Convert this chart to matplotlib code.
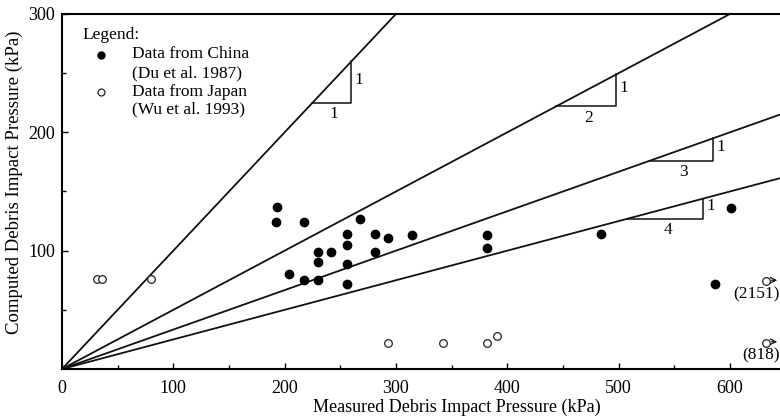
import matplotlib
matplotlib.use("Agg")
from matplotlib import pyplot as plt

plt.rcParams['font.family'] = ['Liberation Serif', 'DejaVu Serif']

# data from China (Du et al. 1987)
china_x = [193, 192, 217, 268, 256, 281, 293, 314, 256, 230, 242, 281, 230, 256, 204, 217, 230, 256, 382, 382, 601, 484, 587]
china_y = [137, 124, 124, 127, 114, 114, 111, 113, 105, 99, 99, 99, 90, 89, 80, 75, 75, 72, 113, 102, 136, 114, 72]

# data from Japan (Wu et al. 1993)
japan_x = [31, 36, 80, 293, 342, 382, 391]
japan_y = [76, 76, 76, 22, 22, 22, 28]

# off-scale Japan points (real measured value in brackets)
off_y = [74, 22]
off_labels = ["(2151)", "(818)"]
off_x = 632

# reference lines 1:1, 1:2, 1:3, 1:4
ratios = [1, 2, 3, 4]
# slope triangles: (start x, length along x)
tri_start = [225, 444, 528, 508]
tri_len = [35, 54, 57, 68]

x_max = 645
y_max = 300

fig = plt.figure(figsize=(7.8, 4.19), dpi=100)
ax = fig.add_axes([62 / 780, 50 / 419, 718 / 780, 355 / 419])

for r in ratios:
    ax.plot([0, x_max], [0, x_max / r], color="#111111", lw=1.3, zorder=2)

# little slope triangles
for r, x0, L in zip(ratios, tri_start, tri_len):
    y0 = x0 / r
    x1 = x0 + L
    y1 = y0 + L / r
    ax.plot([x0, x1, x1], [y0, y0, y1], color="#111111", lw=1.1, zorder=2)
    ax.text(x0 + L / 2 + 2, y0 - 3, str(r), ha="center", va="top", fontsize=12.5)
    ax.text(x1 + 3, (y0 + y1) / 2 + 2, "1", ha="left", va="center", fontsize=12.5)

ax.plot(china_x, china_y, "o", color="black", ms=6, zorder=3)
ax.plot(japan_x, japan_y, "o", mfc="white", mec="#222222", mew=0.9, ms=5.5, zorder=3)

for y, lab in zip(off_y, off_labels):
    ax.plot([off_x], [y], "o", mfc="white", mec="#222222", mew=0.9, ms=5.5, zorder=3, clip_on=False)
    ax.annotate("", xy=(x_max, y + 1), xytext=(off_x + 3, y + 1),
                arrowprops=dict(arrowstyle="->", color="#111111", lw=0.9), annotation_clip=False)
    ax.text(x_max, y - 4, lab, ha="right", va="top", fontsize=12.5)

# legend drawn as text
ax.text(18, 282, "Legend:", ha="left", va="center", fontsize=12.5)
ax.plot([35], [265], "o", color="black", ms=5)
ax.text(63, 266, "Data from China", ha="left", va="center", fontsize=12.5)
ax.text(63, 250, "(Du et al. 1987)", ha="left", va="center", fontsize=12.5)
ax.plot([35], [234], "o", mfc="white", mec="#222222", mew=0.9, ms=5)
ax.text(63, 234, "Data from Japan", ha="left", va="center", fontsize=12.5)
ax.text(63, 219, "(Wu et al. 1993)", ha="left", va="center", fontsize=12.5)

ax.set_xlim(0, x_max)
ax.set_ylim(0, y_max)
ax.set_xticks([0, 100, 200, 300, 400, 500, 600])
ax.set_xticks([50, 150, 250, 350, 450, 550], minor=True)
ax.set_yticks([100, 200, 300])
ax.set_yticks([50, 150, 250], minor=True)
ax.tick_params(which="both", direction="in", labelsize=13)
ax.tick_params(which="major", length=4, width=1)
ax.tick_params(which="minor", length=3, width=1)
ax.tick_params(axis="x", pad=8)
ax.tick_params(axis="y", pad=5)
ax.spines["right"].set_visible(False)
for s in ["left", "bottom", "top"]:
    ax.spines[s].set_linewidth(1.5)

ax.set_xlabel("Measured Debris Impact Pressure (kPa)", fontsize=13)
ax.set_ylabel("Computed Debris Impact Pressure (kPa)", fontsize=13.5)
ax.xaxis.set_label_coords(0.55, -0.085)
ax.yaxis.set_label_coords(-0.054, 0.525)

plt.savefig("out.png", dpi=100)
